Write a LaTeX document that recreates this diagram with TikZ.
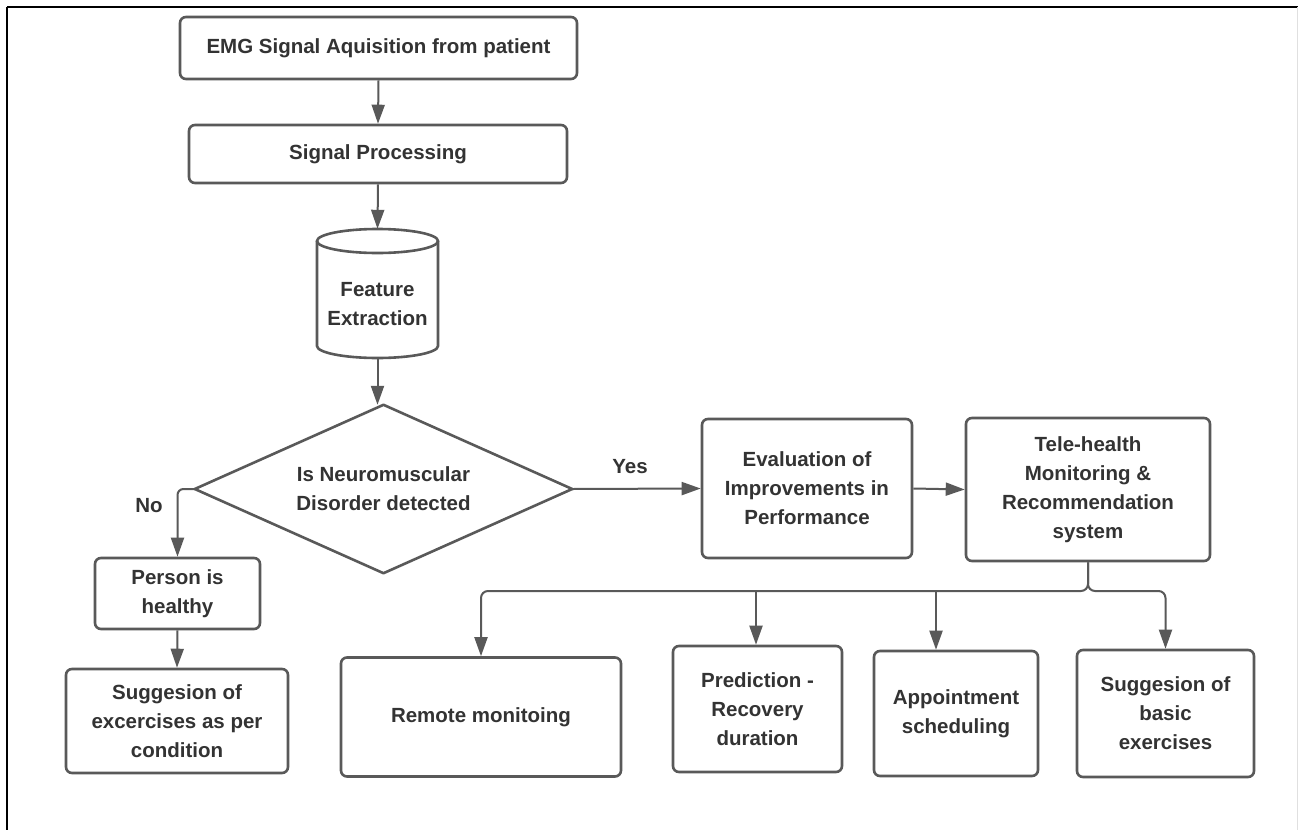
\documentclass[tikz,border=0pt]{standalone}
\usepackage{fontspec}
\setmainfont{Liberation Sans}
\usetikzlibrary{arrows.meta,calc}
\definecolor{lineC}{HTML}{595959}
\definecolor{textC}{HTML}{333333}
\begin{document}
\begin{tikzpicture}[x=1pt,y=-1pt,
  boxline/.style={draw=lineC, line width=2.6pt},
  box/.style={boxline, rounded corners=6pt, inner sep=0pt, align=center, text=textC,
    font=\bfseries\fontsize{20.5}{29}\selectfont},
  txt/.style={inner sep=0pt, align=center, text=textC, font=\bfseries\fontsize{20.5}{29}\selectfont},
  arr/.style={draw=lineC, line width=2pt, -{Triangle[length=19pt,width=13pt]}},
  ln/.style={draw=lineC, line width=2pt}]
\useasboundingbox (0,0) rectangle (1299,830);
\fill[white] (0,0) rectangle (1299,830);
% frame
\draw[black, line width=2.5pt] (7,7) -- (1298,7);
\draw[black, line width=2pt] (7,7) -- (7,830);
\draw[black!12, line width=1.2pt] (1297.5,7) -- (1297.5,830);

% nodes
\node[box, minimum width=397pt, minimum height=62pt] (emg) at (378.5,48) {EMG Signal Aquisition from patient};
\node[box, minimum width=378pt, minimum height=58pt] (sp) at (378,154) {Signal Processing};
% cylinder
\node[inner sep=0pt, minimum width=121pt, minimum height=129pt] (feat) at (377.5,293.5) {};
\draw[boxline, fill=white] (317,241) -- (317,346) arc[start angle=180, end angle=360, x radius=60.5pt, y radius=12pt] -- (438,241);
\draw[boxline] (377.5,241) ellipse[x radius=60.5pt, y radius=12pt];
\node[txt] (feattxt) at (377.5,304) {Feature\\Extraction};
% decision
\node[txt, minimum width=377pt, minimum height=168pt] (dec) at (383.5,489) {Is Neuromuscular\\Disorder detected};
\draw[boxline, line join=round] (dec.north) -- (dec.east) -- (dec.south) -- (dec.west) -- cycle;

\node[box, minimum width=165pt, minimum height=71pt] (person) at (177.5,593.5) {Person is\\healthy};
\node[box, minimum width=222pt, minimum height=104pt] (sug) at (177,721) {Suggesion of\\excercises as per\\condition};
\node[box, minimum width=280pt, minimum height=119pt] (remote) at (481,717) {Remote monitoing};
\node[box, minimum width=210pt, minimum height=139pt] (eval) at (807,488.5) {Evaluation of\\Improvements in\\Performance};
\node[box, minimum width=244pt, minimum height=143pt] (tele) at (1088,489.5) {Tele-health\\Monitoring \&\\Recommendation\\system};
\node[box, minimum width=169pt, minimum height=126pt] (pred) at (757.5,709) {Prediction -\\Recovery\\duration};
\node[box, minimum width=164pt, minimum height=125pt] (appt) at (956,713.5) {Appointment\\scheduling};
\node[box, minimum width=177pt, minimum height=127pt] (basic) at (1165.5,713.5) {Suggesion of\\basic\\exercises};

\node[txt] (yes) at (630,467) {Yes};
\node[txt] (no) at (149,506) {No};

% connectors
\draw[arr] (emg.south) -- (sp.north);
\draw[arr] (sp.south) -- (feat.north);
\draw[arr] (feat.south) -- (feat.south |- dec.north);
\draw[arr, rounded corners=6pt] (dec.west) -| (person.north);
\draw[arr] (person.south) -- (sug.north);
\draw[arr] (dec.east) -- (eval.west);
\draw[arr] (eval.east) -- (tele.west);
\coordinate (hub) at (1088,591);
\draw[arr, rounded corners=7pt] (tele.south) -- (hub) -| (remote.north);
\draw[arr, rounded corners=7pt] (tele.south) -- (hub) -| (basic.north);
\coordinate (predin) at ($(pred.north)+(-1.5,0)$);
\draw[arr] (predin |- hub) -- (predin);
\coordinate (apin) at ($(appt.north)+(-20,0)$);
\draw[arr] (apin |- hub) -- (apin);
\end{tikzpicture}
\end{document}
